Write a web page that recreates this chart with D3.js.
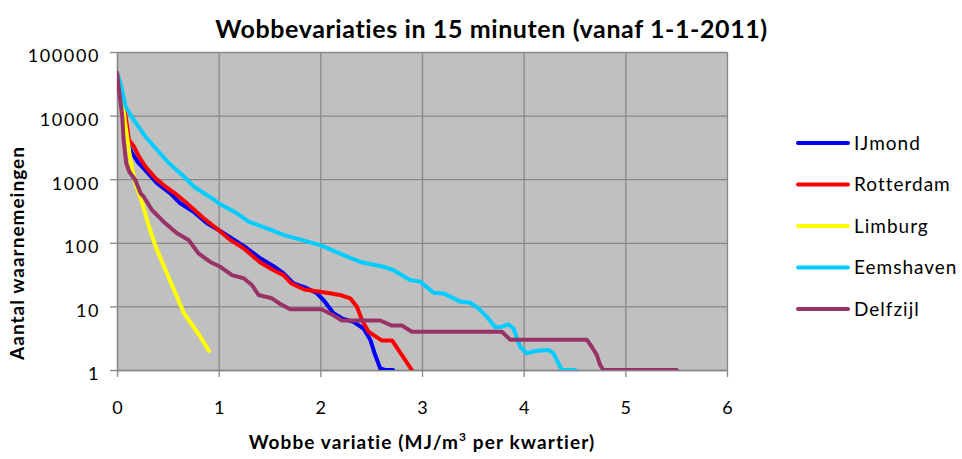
<!DOCTYPE html>
<html><head><meta charset="utf-8">
<script src="https://cdn.jsdelivr.net/npm/d3@7"></script>
<style>
body{margin:0;background:#fff}
svg text{font-family:Lato,"Open Sans",sans-serif;fill:#000}
</style>
</head><body>
<svg id="c" width="962" height="459"></svg>
<script>
const chartTitle = "Wobbevariaties in 15 minuten (vanaf 1-1-2011)";
const xTitle = "Wobbe variatie (MJ/m";
const xTitleSup = "3";
const xTitleEnd = " per kwartier)";
const yTitle = "Aantal waarnemeingen";
const xTicks = [0, 1, 2, 3, 4, 5, 6];
const yTicks = [1, 10, 100, 1000, 10000, 100000];
const seriesNames = ["IJmond", "Rotterdam", "Limburg", "Eemshaven", "Delfzijl"];
const seriesColors = ["#0000FF", "#FF0000", "#FFFF00", "#00CCFF", "#993366"];

const ijmond = [[0,47000],[0.045,19800],[0.085,6690],[0.118,3240],[0.15,2550],[0.205,1860],[0.262,1480],[0.393,863],[0.524,600],[0.622,418],[0.753,308],[0.885,203],[0.999,159],[1.18,104],[1.278,82],[1.409,57],[1.54,43],[1.638,33],[1.736,23],[1.868,19.3],[1.967,16.1],[2.031,12.6],[2.13,7.8],[2.212,6.5],[2.326,5.7],[2.425,4.5],[2.491,3],[2.54,1.72],[2.589,1.06],[2.638,1],[2.714,1]];
const rotterdam = [[0,47000],[0.052,19800],[0.085,9600],[0.118,4130],[0.167,3240],[0.216,2260],[0.281,1570],[0.38,1030],[0.478,762],[0.59,565],[0.688,418],[0.852,243],[0.999,159],[1.114,111],[1.245,82],[1.409,49],[1.54,37],[1.638,31],[1.714,23],[1.842,18.4],[1.999,17],[2.196,15.1],[2.294,13.4],[2.36,9.9],[2.409,6.1],[2.474,4],[2.606,2.9],[2.707,2.9],[2.786,1.88],[2.9,1]];
const limburg = [[0,47000],[0.052,17600],[0.085,6690],[0.118,2880],[0.15,1400],[0.183,863],[0.249,418],[0.315,179],[0.38,87],[0.478,37],[0.576,16],[0.659,7.8],[0.74,5.1],[0.822,3.3],[0.905,2]];
const eemshaven = [[0,47000],[0.035,32200],[0.085,13800],[0.134,10200],[0.2,7110],[0.281,4660],[0.38,3060],[0.511,1780],[0.642,1165],[0.757,762],[0.937,500],[0.999,418],[1.18,291],[1.294,215],[1.475,169],[1.638,133],[1.999,92],[2.228,64],[2.392,50],[2.621,42],[2.72,37],[2.884,26],[2.982,24.5],[3.113,16.4],[3.211,16],[3.376,11.9],[3.474,11.4],[3.556,9.3],[3.638,6.9],[3.72,4.7],[3.786,4.8],[3.851,5.2],[3.9,4.5],[3.966,2.3],[4.031,1.83],[4.113,1.99],[4.244,2.06],[4.293,1.83],[4.342,1.27],[4.376,1],[4.507,1]];
const delfzijl = [[0,47000],[0.032,17600],[0.052,9600],[0.065,4130],[0.091,1780],[0.121,1310],[0.18,971],[0.232,600],[0.262,531],[0.344,328],[0.458,215],[0.59,141],[0.704,111],[0.802,68],[0.917,50],[1.016,42],[1.131,31],[1.245,27.7],[1.327,21.7],[1.392,15.1],[1.524,13.4],[1.606,10.9],[1.704,9],[2.009,9],[2.114,7.5],[2.212,6],[2.589,6],[2.704,5],[2.802,5],[2.901,4],[3.786,4],[3.867,3],[4.621,3],[4.671,2.3],[4.72,1.72],[4.752,1.2],[4.785,1],[4.867,1],[5.506,1]];
const seriesData = [ijmond, rotterdam, limburg, eemshaven, delfzijl];

const svg = d3.select("#c");
const L = 117, R = 727, T = 52, B = 370;
const x = d3.scaleLinear().domain([0, 6]).range([L, R]);
const y = d3.scaleLog().domain([1, 100000]).range([B, T]);

svg.append("rect").attr("x", L).attr("y", T).attr("width", R - L).attr("height", B - T).attr("fill", "#C0C0C0");

const gridColor = "#888888";
svg.append("g").attr("transform", `translate(0,${B})`)
  .call(d3.axisBottom(x).tickValues(xTicks).tickSize(-(B - T)).tickFormat(""))
  .call(g => g.select(".domain").remove())
  .call(g => g.selectAll("line").attr("stroke", gridColor).attr("stroke-width", 1.3));
svg.append("g").attr("transform", `translate(${L},0)`)
  .call(d3.axisLeft(y).tickValues(yTicks).tickSize(-(R - L)).tickFormat(""))
  .call(g => g.select(".domain").remove())
  .call(g => g.selectAll("line").attr("stroke", gridColor).attr("stroke-width", 1.3));

const yAxis = svg.append("g").attr("transform", `translate(${L},0)`)
  .call(d3.axisLeft(y).tickValues(yTicks).tickSizeInner(7).tickSizeOuter(0).tickPadding(10).tickFormat(d3.format("d")));
yAxis.select(".domain").attr("stroke", gridColor).attr("stroke-width", 1.3);
yAxis.selectAll("line").attr("stroke", gridColor).attr("stroke-width", 1.3);
yAxis.selectAll("text").attr("font-size", 18).attr("letter-spacing", 1.6).attr("dy", "0.55em")
  .style("font-family", "Lato, 'Open Sans', sans-serif").attr("fill", "#000");

const xAxis = svg.append("g").attr("transform", `translate(0,${B})`)
  .call(d3.axisBottom(x).tickValues(xTicks).tickSizeInner(7).tickSizeOuter(0).tickPadding(24).tickFormat(d3.format("d")));
xAxis.select(".domain").attr("stroke", gridColor).attr("stroke-width", 1.3);
xAxis.selectAll("line").attr("stroke", gridColor).attr("stroke-width", 1.3);
xAxis.selectAll("text").attr("font-size", 18)
  .style("font-family", "Lato, 'Open Sans', sans-serif").attr("fill", "#000");

svg.append("clipPath").attr("id", "plotclip").append("rect")
  .attr("x", L).attr("y", T).attr("width", R - L).attr("height", B - T);

const line = d3.line().x(d => x(d[0])).y(d => y(d[1]));
const lines = svg.append("g").attr("clip-path", "url(#plotclip)");
seriesData.forEach((s, i) => {
  lines.append("path").datum(s).attr("d", line).attr("fill", "none")
    .attr("stroke", seriesColors[i]).attr("stroke-width", 4)
    .attr("stroke-linejoin", "round").attr("stroke-linecap", "round");
});

const lg = svg.append("g");
seriesNames.forEach((n, i) => {
  const ly = 143 + i * 41.5;
  lg.append("line").attr("x1", 798).attr("x2", 848).attr("y1", ly).attr("y2", ly)
    .attr("stroke", seriesColors[i]).attr("stroke-width", 4).attr("stroke-linecap", "round");
  lg.append("text").attr("x", 854).attr("y", ly).attr("dy", "0.36em")
    .attr("font-size", 19).attr("letter-spacing", 1.0).text(n);
});

svg.append("text").attr("x", 491.5).attr("y", 38).attr("text-anchor", "middle")
  .attr("font-size", 25).attr("letter-spacing", 0.6).attr("font-weight", "bold").text(chartTitle);

const xt = svg.append("text").attr("x", 422).attr("y", 449).attr("text-anchor", "middle")
  .attr("font-size", 19).attr("letter-spacing", 1.1).attr("font-weight", "bold");
xt.append("tspan").text(xTitle);
xt.append("tspan").attr("dy", -8).attr("font-size", 12).text(xTitleSup);
xt.append("tspan").attr("dy", 8).text(xTitleEnd);

svg.append("text").attr("transform", "translate(24,253) rotate(-90)").attr("text-anchor", "middle")
  .attr("font-size", 19).attr("letter-spacing", 1.0).attr("font-weight", "bold").text(yTitle);
</script>
</body></html>
